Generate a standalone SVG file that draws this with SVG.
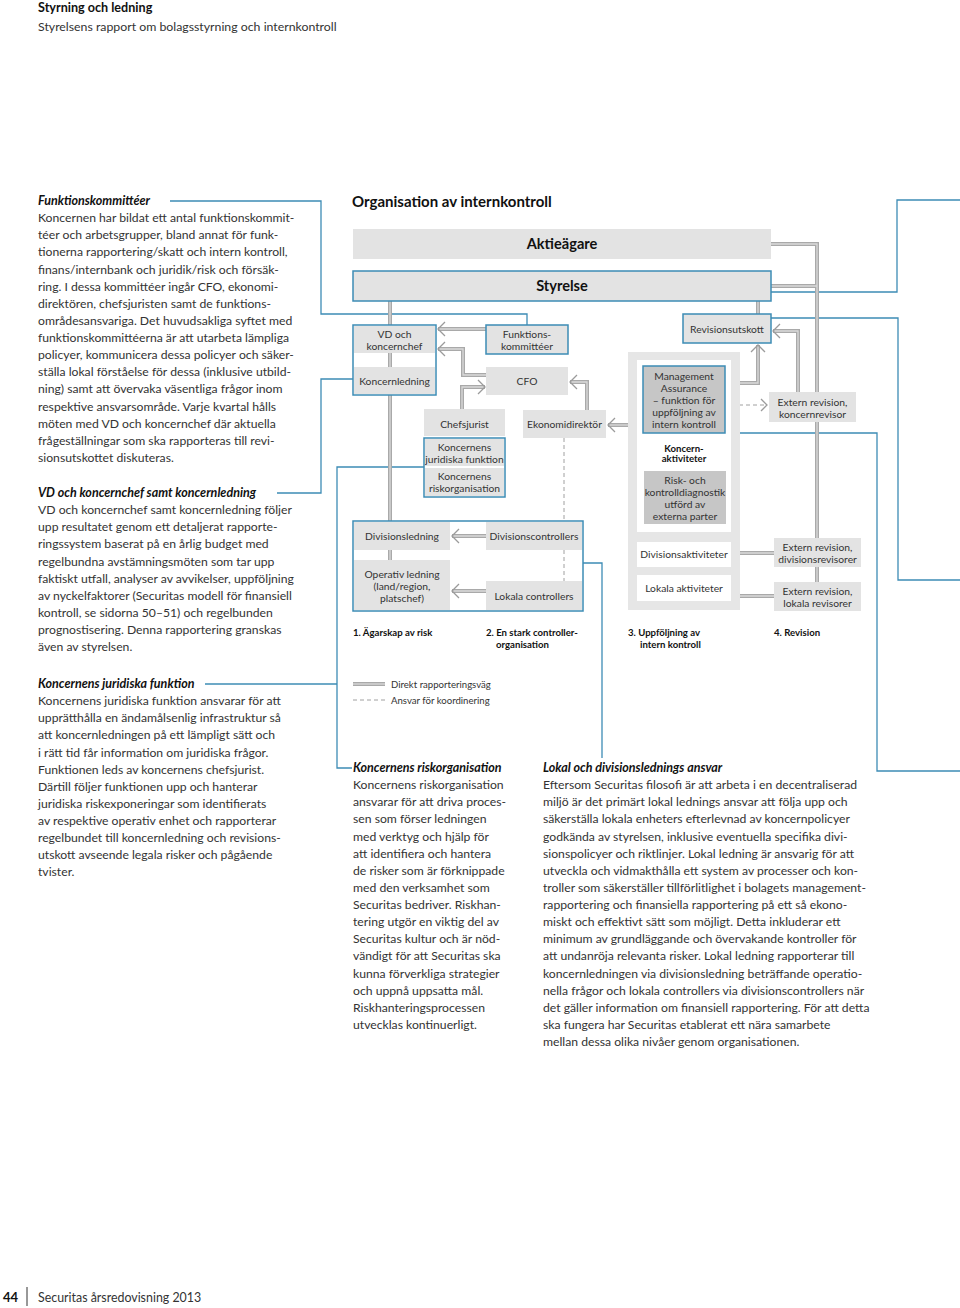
<svg xmlns="http://www.w3.org/2000/svg" xmlns:xlink="http://www.w3.org/1999/xlink" width="960" height="1308" viewBox="0 0 960 1308">
<style>
text{font-family:Lato,"Open Sans","Liberation Sans",sans-serif;fill:#333}
.h{font-weight:700;fill:#111}
.hi{font-weight:700;font-style:italic;fill:#111;font-size:12.5px}
.body{font-size:12.2px}
.bx{font-size:10.3px;text-anchor:middle}
.bb{font-size:14.6px;font-weight:700;text-anchor:middle;fill:#111}
.lab{font-size:9.6px;font-weight:700;fill:#111}
.blue{fill:none;stroke:#3d8cb5;stroke-width:1.3}
.outl{fill:none;stroke:#3d8cb5;stroke-width:1.5}
.cell{fill:#e3e3e3}
.dark{fill:#c6c6c6}
.ah{fill:none;stroke:#9b9b9b;stroke-width:1.3}
.dash{fill:none;stroke:#a0a0a0;stroke-width:1;stroke-dasharray:4 3}
</style>
<defs>
<g id="direct">
<path d="M771 244H817V582M771 286H817"/>
<path d="M390 301V325M390 353V367M390 395V521M390 550V560"/>
<path d="M758 301V314"/>
<path d="M486 329H438"/>
<path d="M486 375H463V349H438"/>
<path d="M462 409V387H485"/>
<path d="M587 410V382H570"/>
<path d="M628 425H608"/>
<path d="M740 383H758V345"/>
<path d="M798 392V331H773"/>
<path d="M717 471V435"/>
<path d="M486 536H452M486 591H452"/>
<path d="M740 553H774M740 596H774"/>
<path d="M353 684H385"/>
</g>
</defs>

<!-- header -->
<text class="h" x="38" y="12" font-size="12.6">Styrning och ledning</text>
<text x="38" y="31" font-size="12.3">Styrelsens rapport om bolagsstyrning och internkontroll</text>

<!-- blue leader lines -->
<g id="leaders">
<path class="blue" d="M170 201H321V314H527V325"/>
<path class="blue" d="M277 493H321V379H353"/>
<path class="blue" d="M205 684H337"/>
<path class="blue" d="M352 768H337V467H424"/>
<path class="blue" d="M583 563H602V758"/>
<path class="blue" d="M771 292H897V200H960"/>
<path class="blue" d="M771 318H898V580H960"/>
<path class="blue" d="M725 433H877V771H960"/>
</g>

<!-- connectors -->
<g id="connectors" fill="none">
<use xlink:href="#direct" href="#direct" stroke="#a9a9a9" stroke-width="4"/>
<use xlink:href="#direct" href="#direct" stroke="#dadada" stroke-width="1.3"/>
<polyline class="ah" points="445,322 438,329 445,336"/>
<polyline class="ah" points="445,342 438,349 445,356"/>
<polyline class="ah" points="478,380 485,387 478,394"/>
<polyline class="ah" points="577,375 570,382 577,389"/>
<polyline class="ah" points="615,418 608,425 615,432"/>
<polyline class="ah" points="751,352 758,345 765,352"/>
<polyline class="ah" points="780,324 773,331 780,338"/>
<polyline class="ah" points="710,442 717,435 724,442"/>
<polyline class="ah" points="459,529 452,536 459,543"/>
<polyline class="ah" points="459,584 452,591 459,598"/>
<path class="dash" d="M653 433V467"/>
<polyline class="ah" points="647,461 653,467 659,461"/>
<path class="dash" d="M725 405H767"/>
<polyline class="ah" points="761,399 767,405 761,411"/>
<path class="dash" d="M564 438V521M564 550V581"/>
<path class="dash" d="M353 700H385"/>
</g>

<!-- diagram title -->
<text class="h" x="352" y="207" font-size="15">Organisation av internkontroll</text>

<g id="aktieagare">
<rect class="cell" x="353" y="229" width="418" height="30"/>
<text class="bb" x="562" y="249">Aktieägare</text>
</g>
<g id="styrelse">
<rect class="cell" x="353" y="271" width="418" height="30"/>
<rect class="outl" x="353" y="271" width="418" height="30"/>
<text class="bb" x="562" y="291">Styrelse</text>
</g>

<g id="vd">
<rect class="cell" x="354" y="326" width="81" height="27"/>
<text class="bx" x="394.5" y="337.5">VD och</text>
<text class="bx" x="394.5" y="349.5">koncernchef</text>
</g>
<g id="koncernledning">
<rect class="cell" x="354" y="367" width="81" height="27"/>
<text class="bx" x="394.5" y="385">Koncernledning</text>
</g>
<rect class="outl" x="353" y="325" width="83" height="70"/>

<g id="funktionskommitteer">
<rect class="cell" x="486" y="325" width="82" height="29"/>
<rect class="outl" x="486" y="325" width="82" height="29"/>
<text class="bx" x="527" y="337.5">Funktions-</text>
<text class="bx" x="527" y="349.5">kommittéer</text>
</g>
<g id="cfo">
<rect class="cell" x="486" y="367" width="82" height="28"/>
<text class="bx" x="527" y="385">CFO</text>
</g>
<g id="chefsjurist">
<rect class="cell" x="424" y="409" width="81" height="27"/>
<text class="bx" x="464.5" y="427.5">Chefsjurist</text>
</g>
<g id="juridiska">
<rect class="cell" x="425" y="439" width="79" height="27"/>
<text class="bx" x="464.5" y="450.5">Koncernens</text>
<text class="bx" x="464.5" y="462.5">juridiska funktion</text>
</g>
<g id="riskorganisation">
<rect class="cell" x="425" y="468" width="79" height="28"/>
<text class="bx" x="464.5" y="479.5">Koncernens</text>
<text class="bx" x="464.5" y="491.5">riskorganisation</text>
</g>
<rect class="outl" x="424" y="438" width="81" height="59"/>
<g id="ekonomidirektor">
<rect class="cell" x="523" y="410" width="83" height="28"/>
<text class="bx" x="564.5" y="428">Ekonomidirektör</text>
</g>

<g id="divisionsledning">
<rect class="cell" x="354" y="522" width="96" height="28"/>
<text class="bx" x="402" y="540">Divisionsledning</text>
</g>
<g id="operativ">
<rect class="cell" x="354" y="560" width="96" height="50"/>
<text class="bx" x="402" y="577.5">Operativ ledning</text>
<text class="bx" x="402" y="589.5">(land/region,</text>
<text class="bx" x="402" y="601.5">platschef)</text>
</g>
<g id="divisionscontrollers">
<rect class="cell" x="486" y="522" width="96" height="28"/>
<text class="bx" x="534" y="540">Divisionscontrollers</text>
</g>
<g id="lokalacontrollers">
<rect class="cell" x="486" y="581" width="96" height="29"/>
<text class="bx" x="534" y="599.5">Lokala controllers</text>
</g>
<rect class="outl" x="353" y="521" width="230" height="90"/>

<g id="revisionsutskott">
<rect class="cell" x="683" y="314" width="88" height="29"/>
<rect class="outl" x="683" y="314" width="88" height="29"/>
<text class="bx" x="727" y="332.5">Revisionsutskott</text>
</g>

<g id="uppfoljning">
<rect fill="#e6e6e6" x="628" y="352" width="112" height="258"/>
<rect fill="#fff" x="637" y="360" width="94" height="172"/>
<rect fill="#fff" x="637" y="542" width="94" height="25"/>
<rect fill="#fff" x="637" y="575" width="94" height="26"/>
</g>
<g id="management">
<rect class="dark" x="643" y="366" width="82" height="67"/>
<rect class="outl" x="643" y="366" width="82" height="67"/>
<text class="bx" x="684" y="380">Management</text>
<text class="bx" x="684" y="392">Assurance</text>
<text class="bx" x="684" y="404">– funktion för</text>
<text class="bx" x="684" y="416">uppföljning av</text>
<text class="bx" x="684" y="428">intern kontroll</text>
</g>
<g id="koncernaktiviteter">
<text class="lab" x="684" y="452" text-anchor="middle" font-size="8">Koncern-</text>
<text class="lab" x="684" y="462" text-anchor="middle" font-size="8">aktiviteter</text>
</g>
<g id="riskdiagnostik">
<rect class="dark" x="644" y="471" width="82" height="53"/>
<text class="bx" x="685" y="484">Risk- och</text>
<text class="bx" x="685" y="496">kontrolldiagnostik</text>
<text class="bx" x="685" y="508">utförd av</text>
<text class="bx" x="685" y="520">externa parter</text>
</g>
<g id="divisionsaktiviteter">
<text class="bx" x="684" y="558">Divisionsaktiviteter</text>
</g>
<g id="lokalaaktiviteter">
<text class="bx" x="684" y="592">Lokala aktiviteter</text>
</g>

<g id="extkoncern">
<rect class="cell" x="769" y="392" width="87" height="30"/>
<text class="bx" x="812.5" y="405.5">Extern revision,</text>
<text class="bx" x="812.5" y="417.5">koncernrevisor</text>
</g>
<g id="extdivision">
<rect class="cell" x="774" y="538" width="87" height="29"/>
<text class="bx" x="817.5" y="550.5">Extern revision,</text>
<text class="bx" x="817.5" y="562.5">divisionsrevisorer</text>
</g>
<g id="extlokal">
<rect class="cell" x="774" y="582" width="87" height="29"/>
<text class="bx" x="817.5" y="594.5">Extern revision,</text>
<text class="bx" x="817.5" y="606.5">lokala revisorer</text>
</g>

<g id="labels">
<text class="lab" x="353" y="636">1. Ägarskap av risk</text>
<text class="lab" x="486" y="636">2. En stark controller-</text>
<text class="lab" x="496" y="647.5">organisation</text>
<text class="lab" x="628" y="636">3. Uppföljning av</text>
<text class="lab" x="640" y="647.5">intern kontroll</text>
<text class="lab" x="774" y="636">4. Revision</text>
<text x="391" y="687.5" font-size="9.6">Direkt rapporteringsväg</text>
<text x="391" y="703.5" font-size="9.6">Ansvar för koordinering</text>
</g>

<!-- text columns -->
<text class="hi" x="38" y="205">Funktionskommittéer</text>
<text class="body" x="38" y="205">
<tspan x="38" dy="17.13">Koncernen har bildat ett antal funktionskommit-</tspan>
<tspan x="38" dy="17.13">téer och arbetsgrupper, bland annat för funk-</tspan>
<tspan x="38" dy="17.13">tionerna rapportering/skatt och intern kontroll,</tspan>
<tspan x="38" dy="17.13">finans/internbank och juridik/risk och försäk-</tspan>
<tspan x="38" dy="17.13">ring. I dessa kommittéer ingår CFO, ekonomi-</tspan>
<tspan x="38" dy="17.13">direktören, chefsjuristen samt de funktions-</tspan>
<tspan x="38" dy="17.13">områdesansvariga. Det huvudsakliga syftet med</tspan>
<tspan x="38" dy="17.13">funktionskommittéerna är att utarbeta lämpliga</tspan>
<tspan x="38" dy="17.13">policyer, kommunicera dessa policyer och säker-</tspan>
<tspan x="38" dy="17.13">ställa lokal förståelse för dessa (inklusive utbild-</tspan>
<tspan x="38" dy="17.13">ning) samt att övervaka väsentliga frågor inom</tspan>
<tspan x="38" dy="17.13">respektive ansvarsområde. Varje kvartal hålls</tspan>
<tspan x="38" dy="17.13">möten med VD och koncernchef där aktuella</tspan>
<tspan x="38" dy="17.13">frågeställningar som ska rapporteras till revi-</tspan>
<tspan x="38" dy="17.13">sionsutskottet diskuteras.</tspan>
</text>

<text class="hi" x="38" y="497">VD och koncernchef samt koncernledning</text>
<text class="body" x="38" y="497">
<tspan x="38" dy="17.13">VD och koncernchef samt koncernledning följer</tspan>
<tspan x="38" dy="17.13">upp resultatet genom ett detaljerat rapporte-</tspan>
<tspan x="38" dy="17.13">ringssystem baserat på en årlig budget med</tspan>
<tspan x="38" dy="17.13">regelbundna avstämningsmöten som tar upp</tspan>
<tspan x="38" dy="17.13">faktiskt utfall, analyser av avvikelser, uppföljning</tspan>
<tspan x="38" dy="17.13">av nyckelfaktorer (Securitas modell för finansiell</tspan>
<tspan x="38" dy="17.13">kontroll, se sidorna 50–51) och regelbunden</tspan>
<tspan x="38" dy="17.13">prognostisering. Denna rapportering granskas</tspan>
<tspan x="38" dy="17.13">även av styrelsen.</tspan>
</text>

<text class="hi" x="38" y="688">Koncernens juridiska funktion</text>
<text class="body" x="38" y="688">
<tspan x="38" dy="17.13">Koncernens juridiska funktion ansvarar för att</tspan>
<tspan x="38" dy="17.13">upprätthålla en ändamålsenlig infrastruktur så</tspan>
<tspan x="38" dy="17.13">att koncernledningen på ett lämpligt sätt och</tspan>
<tspan x="38" dy="17.13">i rätt tid får information om juridiska frågor.</tspan>
<tspan x="38" dy="17.13">Funktionen leds av koncernens chefsjurist.</tspan>
<tspan x="38" dy="17.13">Därtill följer funktionen upp och hanterar</tspan>
<tspan x="38" dy="17.13">juridiska riskexponeringar som identifierats</tspan>
<tspan x="38" dy="17.13">av respektive operativ enhet och rapporterar</tspan>
<tspan x="38" dy="17.13">regelbundet till koncernledning och revisions-</tspan>
<tspan x="38" dy="17.13">utskott avseende legala risker och pågående</tspan>
<tspan x="38" dy="17.13">tvister.</tspan>
</text>

<text class="hi" x="353" y="772">Koncernens riskorganisation</text>
<text class="body" x="353" y="772">
<tspan x="353" dy="17.13">Koncernens riskorganisation</tspan>
<tspan x="353" dy="17.13">ansvarar för att driva proces-</tspan>
<tspan x="353" dy="17.13">sen som förser ledningen</tspan>
<tspan x="353" dy="17.13">med verktyg och hjälp för</tspan>
<tspan x="353" dy="17.13">att identifiera och hantera</tspan>
<tspan x="353" dy="17.13">de risker som är förknippade</tspan>
<tspan x="353" dy="17.13">med den verksamhet som</tspan>
<tspan x="353" dy="17.13">Securitas bedriver. Riskhan-</tspan>
<tspan x="353" dy="17.13">tering utgör en viktig del av</tspan>
<tspan x="353" dy="17.13">Securitas kultur och är nöd-</tspan>
<tspan x="353" dy="17.13">vändigt för att Securitas ska</tspan>
<tspan x="353" dy="17.13">kunna förverkliga strategier</tspan>
<tspan x="353" dy="17.13">och uppnå uppsatta mål.</tspan>
<tspan x="353" dy="17.13">Riskhanteringsprocessen</tspan>
<tspan x="353" dy="17.13">utvecklas kontinuerligt.</tspan>
</text>

<text class="hi" x="543" y="772">Lokal och divisionslednings ansvar</text>
<text class="body" x="543" y="772">
<tspan x="543" dy="17.13">Eftersom Securitas filosofi är att arbeta i en decentraliserad</tspan>
<tspan x="543" dy="17.13">miljö är det primärt lokal lednings ansvar att följa upp och</tspan>
<tspan x="543" dy="17.13">säkerställa lokala enheters efterlevnad av koncernpolicyer</tspan>
<tspan x="543" dy="17.13">godkända av styrelsen, inklusive eventuella specifika divi-</tspan>
<tspan x="543" dy="17.13">sionspolicyer och riktlinjer. Lokal ledning är ansvarig för att</tspan>
<tspan x="543" dy="17.13">utveckla och vidmakthålla ett system av processer och kon-</tspan>
<tspan x="543" dy="17.13">troller som säkerställer tillförlitlighet i bolagets management-</tspan>
<tspan x="543" dy="17.13">rapportering och finansiella rapportering på ett så ekono-</tspan>
<tspan x="543" dy="17.13">miskt och effektivt sätt som möjligt. Detta inkluderar ett</tspan>
<tspan x="543" dy="17.13">minimum av grundläggande och övervakande kontroller för</tspan>
<tspan x="543" dy="17.13">att undanröja relevanta risker. Lokal ledning rapporterar till</tspan>
<tspan x="543" dy="17.13">koncernledningen via divisionsledning beträffande operatio-</tspan>
<tspan x="543" dy="17.13">nella frågor och lokala controllers via divisionscontrollers när</tspan>
<tspan x="543" dy="17.13">det gäller information om finansiell rapportering. För att detta</tspan>
<tspan x="543" dy="17.13">ska fungera har Securitas etablerat ett nära samarbete</tspan>
<tspan x="543" dy="17.13">mellan dessa olika nivåer genom organisationen.</tspan>
</text>

<!-- footer -->
<text class="h" x="3" y="1302" font-size="13">44</text>
<path d="M27 1287V1306" stroke="#333" stroke-width="1"/>
<text x="38" y="1302" font-size="12.4">Securitas årsredovisning 2013</text>
</svg>
